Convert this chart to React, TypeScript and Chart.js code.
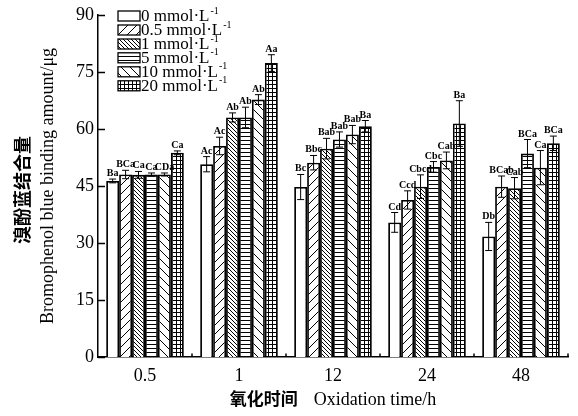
import React, { useEffect, useRef } from 'react';
import { Chart, registerables } from 'chart.js';
Chart.register(...registerables);

const categories = ['0.5', '1', '12', '24', '48'];
const seriesNames = ['0', '0.5', '1', '5', '10', '20'];

const values0 = [46.3, 50.7, 44.7, 35.4, 31.7];
const values05 = [48.0, 55.5, 51.1, 41.3, 44.8];
const values1 = [47.9, 63.0, 54.8, 44.8, 44.4];
const values5 = [48.0, 63.0, 57.2, 50.0, 53.5];
const values10 = [48.0, 67.7, 58.5, 51.7, 49.8];
const values20 = [53.7, 77.3, 60.7, 61.4, 56.2];

const errors0 = [0.5, 2.0, 3.3, 2.6, 3.7];
const errors05 = [1.1, 2.3, 1.9, 2.4, 2.8];
const errors1 = [0.9, 1.2, 2.7, 3.1, 2.8];
const errors5 = [0.4, 2.7, 2.0, 1.4, 3.7];
const errors10 = [0.4, 1.3, 2.4, 2.2, 4.5];
const errors20 = [0.5, 2.2, 1.5, 6.0, 1.9];

const letters0 = ['Ba', 'Ac', 'Bc', 'Cd', 'Db'];
const letters05 = ['BCa', 'Ac', 'Bbc', 'Ccd', 'BCab'];
const letters1 = ['Ca', 'Ab', 'Bab', 'Cbcd', 'Cab'];
const letters5 = ['Ca', 'Ab', 'Bab', 'Cbc', 'BCa'];
const letters10 = ['CDa', 'Ab', 'Bab', 'Cab', 'Ca'];
const letters20 = ['Ca', 'Aa', 'Ba', 'Ba', 'BCa'];

const yTicks = [0, 15, 30, 45, 60, 75, 90];

const allValues = [values0, values05, values1, values5, values10, values20];
const allErrors = [errors0, errors05, errors1, errors5, errors10, errors20];
const allLetters = [letters0, letters05, letters1, letters5, letters10, letters20];
const patternKinds = ['none', 'fwdWide', 'backDense', 'horiz', 'backWide', 'grid'];

const SERIF = "'Liberation Serif', 'Times New Roman', serif";
const CJK = "'Noto Sans CJK SC', sans-serif";

function makePattern(kind: string): CanvasPattern | string {
  if (kind === 'none') return '#ffffff';
  const c = document.createElement('canvas');
  let s = 4;
  if (kind === 'fwdWide' || kind === 'backWide') s = 9;
  c.width = s;
  c.height = s;
  const g = c.getContext('2d')!;
  g.fillStyle = '#fff';
  g.fillRect(0, 0, s, s);
  g.strokeStyle = '#000';
  g.lineWidth = 1;
  g.beginPath();
  if (kind === 'fwdWide') {
    g.moveTo(0, s); g.lineTo(s, 0);
    g.moveTo(-1, 1); g.lineTo(1, -1);
    g.moveTo(s - 1, s + 1); g.lineTo(s + 1, s - 1);
  } else if (kind === 'backWide' || kind === 'backDense') {
    g.moveTo(0, 0); g.lineTo(s, s);
    g.moveTo(-1, s - 1); g.lineTo(1, s + 1);
    g.moveTo(s - 1, -1); g.lineTo(s + 1, 1);
  } else if (kind === 'horiz') {
    g.moveTo(0, 0.5); g.lineTo(s, 0.5);
  } else if (kind === 'grid') {
    g.moveTo(0, 0.5); g.lineTo(s, 0.5);
    g.moveTo(0.5, 0); g.lineTo(0.5, s);
  }
  g.stroke();
  const p = g.createPattern(c, 'repeat');
  return p || '#fff';
}

const decorPlugin = {
  id: 'decor',
  afterDatasetsDraw(chart: any) {
    const ctx: CanvasRenderingContext2D = chart.ctx;
    const y = chart.scales.y;
    chart.data.datasets.forEach((ds: any, di: number) => {
      const meta = chart.getDatasetMeta(di);
      meta.data.forEach((el: any, i: number) => {
        const v = ds.data[i];
        const e = ds.errors[i];
        const x = el.x;
        const yt = y.getPixelForValue(v + e);
        const yb = y.getPixelForValue(v - e);
        ctx.save();
        ctx.strokeStyle = '#000';
        ctx.lineWidth = 1;
        ctx.beginPath();
        ctx.moveTo(x, yt); ctx.lineTo(x, yb);
        ctx.moveTo(x - 3.5, yt); ctx.lineTo(x + 3.5, yt);
        ctx.moveTo(x - 3.5, yb); ctx.lineTo(x + 3.5, yb);
        ctx.stroke();
        ctx.fillStyle = '#000';
        ctx.font = `bold 10px ${SERIF}`;
        ctx.textAlign = 'center';
        ctx.textBaseline = 'alphabetic';
        ctx.fillText(ds.letters[i], x, yt - 3);
        ctx.restore();
      });
    });
  },
  afterDraw(chart: any) {
    const ctx: CanvasRenderingContext2D = chart.ctx;
    const area = chart.chartArea;
    const y = chart.scales.y;
    const xs = chart.scales.x;
    ctx.save();
    ctx.strokeStyle = '#000';
    ctx.lineWidth = 1.5;
    ctx.beginPath();
    y.ticks.forEach((t: any) => {
      const py = Math.round(y.getPixelForValue(t.value)) + 0.5;
      ctx.moveTo(area.left, py);
      ctx.lineTo(area.left + 7, py);
    });
    const n = categories.length;
    const w = (area.right - area.left) / n;
    for (let i = 0; i < n; i++) {
      const px = xs.getPixelForValue(i) + w / 2;
      ctx.moveTo(px, area.bottom);
      ctx.lineTo(px, area.bottom - 3.5);
    }
    ctx.stroke();

    // legend
    const bx = 118, bw = 22, bh = 10;
    const rowY = [16, 30, 44, 57.8, 71.8, 85.8];
    chart.data.datasets.forEach((ds: any, di: number) => {
      const cy = rowY[di];
      ctx.fillStyle = ds.backgroundColor;
      ctx.fillRect(bx, cy - bh / 2, bw, bh);
      ctx.lineWidth = 1.3;
      ctx.strokeStyle = '#000';
      ctx.strokeRect(bx, cy - bh / 2, bw, bh);
      ctx.fillStyle = '#000';
      ctx.font = `17px ${SERIF}`;
      ctx.textAlign = 'left';
      ctx.textBaseline = 'middle';
      const txt = `${seriesNames[di]} mmol·L`;
      ctx.fillText(txt, bx + bw + 1, cy + 1);
      const tw = ctx.measureText(txt).width;
      ctx.font = `10px ${SERIF}`;
      ctx.fillText('-1', bx + bw + 1 + tw + 1, cy - 5);
    });

    // y title
    ctx.save();
    ctx.translate(22, 190);
    ctx.rotate(-Math.PI / 2);
    ctx.textAlign = 'center';
    ctx.textBaseline = 'middle';
    ctx.font = `bold 18px ${CJK}`;
    ctx.fillText('溴酚蓝结合量', 0, 0);
    ctx.restore();
    ctx.save();
    ctx.translate(48, 186);
    ctx.rotate(-Math.PI / 2);
    ctx.textAlign = 'center';
    ctx.textBaseline = 'middle';
    ctx.font = `18px ${SERIF}`;
    ctx.fillText('Bromophenol blue binding amount/μg', 0, 0);
    ctx.restore();

    // x title
    const cx = (area.left + area.right) / 2;
    ctx.font = `bold 17px ${CJK}`;
    const zh = '氧化时间';
    const zw = ctx.measureText(zh).width;
    ctx.font = `18px ${SERIF}`;
    const en = 'Oxidation time/h';
    const ew = ctx.measureText(en).width;
    const gap = 16;
    const start = cx - (zw + gap + ew) / 2;
    ctx.textAlign = 'left';
    ctx.textBaseline = 'middle';
    ctx.font = `bold 17px ${CJK}`;
    ctx.fillText(zh, start, 399);
    ctx.font = `18px ${SERIF}`;
    ctx.fillText(en, start + zw + gap, 400);
    ctx.restore();
  },
};

export default function App() {
  const ref = useRef<HTMLCanvasElement | null>(null);
  useEffect(() => {
    if (!ref.current) return;
    const datasets = allValues.map((vals, i) => ({
      label: `${seriesNames[i]} mmol·L⁻¹`,
      data: vals,
      errors: allErrors[i],
      letters: allLetters[i],
      backgroundColor: makePattern(patternKinds[i]),
      borderColor: '#000',
      borderWidth: 1.8,
      categoryPercentage: 0.826,
      barPercentage: 1.0,
    }));
    const chart = new Chart(ref.current, {
      type: 'bar',
      data: { labels: categories, datasets: datasets as any },
      options: {
        responsive: false,
        animation: false,
        layout: { padding: { top: 13, right: 10, left: 0, bottom: 0 } },
        plugins: { legend: { display: false }, tooltip: { enabled: false } },
        scales: {
          x: {
            grid: { display: false, drawTicks: false },
            border: { display: true, color: '#000', width: 1.5 },
            ticks: { color: '#000', font: { family: SERIF, size: 18 }, padding: 8 },
            afterFit: (s: any) => { s.height = 59; },
          },
          y: {
            min: 0,
            max: 90,
            afterBuildTicks: (s: any) => { s.ticks = yTicks.map((v) => ({ value: v })); },
            grid: { display: false, drawTicks: false },
            border: { display: true, color: '#000', width: 1.5 },
            ticks: { color: '#000', font: { family: SERIF, size: 18 }, padding: 4 },
            afterFit: (s: any) => { s.width = 98; },
          },
        },
      },
      plugins: [decorPlugin],
    });
    return () => chart.destroy();
  }, []);
  return (
    <div style={{ position: 'fixed', left: 0, top: 0, width: 578, height: 416, background: '#fff' }}>
      <canvas ref={ref} width={578} height={416} style={{ width: 578, height: 416 }} />
    </div>
  );
}
